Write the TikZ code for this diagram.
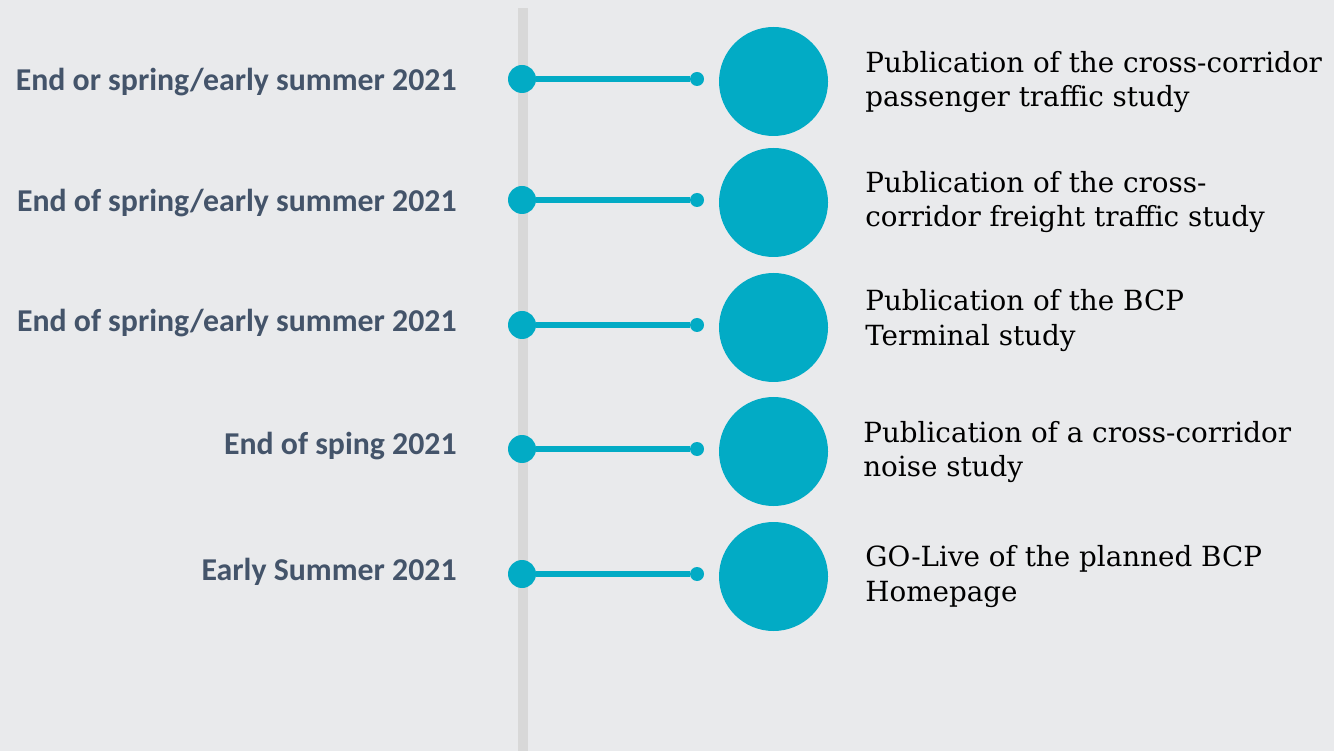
\documentclass[tikz,border=0pt]{standalone}
\usepackage{fontspec}
\setmainfont{DejaVu Serif}
\setsansfont{Carlito}
\usetikzlibrary{positioning}
\definecolor{tlBack}{RGB}{233,234,236}
\definecolor{tlBar}{RGB}{216,216,216}
\definecolor{tlTeal}{RGB}{2,171,197}
\definecolor{tlDate}{RGB}{68,84,106}

\begin{document}
\begin{tikzpicture}[
    date/.style={font=\sffamily\bfseries\fontsize{18.1}{21}\selectfont, text=tlDate, anchor=east, inner sep=0pt},
    item/.style={font=\fontsize{15.8}{19.8}\selectfont, text=black, anchor=west, align=left, inner sep=0pt},
    dot/.style={circle, fill=tlTeal, inner sep=0pt, minimum size=0.56cm},
    pin/.style={circle, fill=tlTeal, inner sep=0pt, minimum size=0.28cm},
    disc/.style={circle, fill=tlTeal, inner sep=0pt, minimum size=2.18cm},
    stem/.style={draw=tlTeal, line width=0.12cm}
  ]
    \fill[tlBack] (0,0) rectangle (26.68,-15.02);
    \useasboundingbox (0,0) rectangle (26.68,-15.02);
    \fill[tlBar] (10.36,-0.16) rectangle (10.56,-15.02);
    % row 1
    \node[date] (l1) at (9.14,-1.64) {End or spring/early summer 2021};
    \node[dot] (d1) at (10.44,-1.58) {};
    \node[pin] (p1) at (13.94,-1.58) {};
    \node[disc] (c1) at (15.47,-1.63) {};
    \node[item] (t1) at (17.3,-1.64) {Publication of the cross-corridor\\passenger traffic study};
    % row 2
    \node[date] (l2) at (9.14,-4.06) {End of spring/early summer 2021};
    \node[dot] (d2) at (10.44,-4.0) {};
    \node[pin] (p2) at (13.94,-4.0) {};
    \node[disc] (c2) at (15.47,-4.05) {};
    \node[item] (t2) at (17.3,-4.04) {Publication of the cross-\\corridor freight traffic study};
    % row 3
    \node[date] (l3) at (9.14,-6.46) {End of spring/early summer 2021};
    \node[dot] (d3) at (10.44,-6.5) {};
    \node[pin] (p3) at (13.94,-6.5) {};
    \node[disc] (c3) at (15.47,-6.55) {};
    \node[item] (t3) at (17.3,-6.41) {Publication of the BCP\\Terminal study};
    % row 4
    \node[date] (l4) at (9.14,-8.92) {End of sping 2021};
    \node[dot] (d4) at (10.44,-8.98) {};
    \node[pin] (p4) at (13.94,-8.98) {};
    \node[disc] (c4) at (15.47,-9.03) {};
    \node[item] (t4) at (17.26,-9.04) {Publication of a cross-corridor\\noise study};
    % row 5
    \node[date] (l5) at (9.14,-11.44) {Early Summer 2021};
    \node[dot] (d5) at (10.44,-11.48) {};
    \node[pin] (p5) at (13.94,-11.48) {};
    \node[disc] (c5) at (15.47,-11.53) {};
    \node[item] (t5) at (17.3,-11.53) {GO-Live of the planned BCP\\Homepage};
    % stems
    \draw[stem] (d1) -- (p1);
    \draw[stem] (d2) -- (p2);
    \draw[stem] (d3) -- (p3);
    \draw[stem] (d4) -- (p4);
    \draw[stem] (d5) -- (p5);
  \end{tikzpicture}
\end{document}
